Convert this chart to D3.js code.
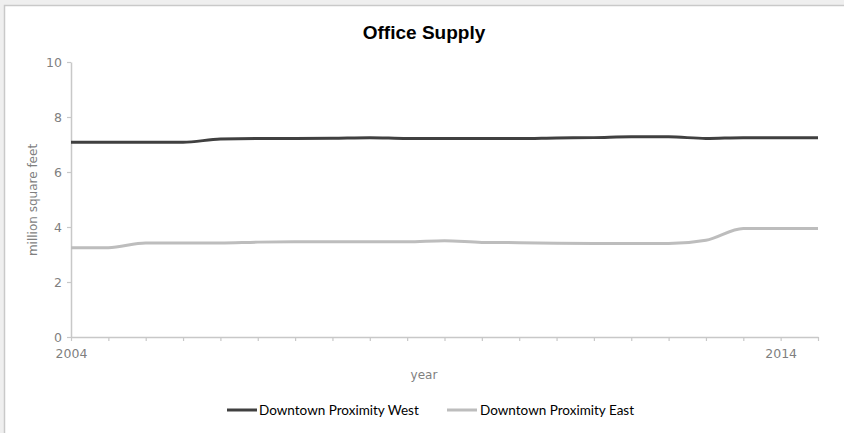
<!DOCTYPE html>
<html>
<head>
<meta charset="utf-8">
<script src="https://cdn.jsdelivr.net/npm/d3@7"></script>
<style>
  html, body { margin: 0; padding: 0; background: #efefef; }
  svg { display: block; }
</style>
</head>
<body>
<svg id="chart" width="844" height="433"></svg>
<script>
// Half-yearly observation slots; only the first and the 2014 slot carry a label
const periodLabels = ["2004", "", "", "", "", "", "", "", "", "", "", "", "", "", "", "", "", "", "", "2014", ""];
const westSupply = [7.08, 7.08, 7.08, 7.08, 7.2, 7.22, 7.22, 7.23, 7.25, 7.22, 7.22, 7.22, 7.22, 7.24, 7.25, 7.28, 7.28, 7.22, 7.25, 7.25, 7.25];
const eastSupply = [3.25, 3.25, 3.42, 3.42, 3.42, 3.45, 3.46, 3.46, 3.46, 3.46, 3.5, 3.44, 3.43, 3.41, 3.4, 3.4, 3.4, 3.52, 3.95, 3.95, 3.95];
const yTicks = [0, 2, 4, 6, 8, 10];
const seriesNames = ["Downtown Proximity West", "Downtown Proximity East"];
const seriesColors = ["#404040", "#bdbdbd"];

const svg = d3.select("#chart");

// chart area frame
svg.append("rect")
  .attr("x", 4.5).attr("y", 5.5)
  .attr("width", 900).attr("height", 500)
  .attr("fill", "#ffffff")
  .attr("stroke", "#c9c9c9")
  .attr("stroke-width", 1.5);

const plot = { left: 71, right: 818, top: 62, bottom: 337 };

const x = d3.scalePoint()
  .domain(d3.range(periodLabels.length))
  .range([plot.left, plot.right]);

const y = d3.scaleLinear()
  .domain([0, 10])
  .range([plot.bottom, plot.top]);

const axisFont = "'DejaVu Sans', Verdana, sans-serif";
const axisGrey = "#7f7f7f";
const lineGrey = "#c8c8c8";

// title
svg.append("text")
  .attr("x", 424).attr("y", 39)
  .attr("text-anchor", "middle")
  .attr("font-family", "'Liberation Sans', Arial, sans-serif")
  .attr("font-weight", "bold")
  .attr("font-size", 19)
  .attr("fill", "#000")
  .text("Office Supply");

// y axis
const yAxis = svg.append("g")
  .attr("transform", `translate(${plot.left},0)`)
  .call(d3.axisLeft(y).tickValues(yTicks).tickSize(4).tickPadding(5).tickSizeOuter(0));
yAxis.select(".domain").attr("stroke", lineGrey).attr("stroke-width", 1.5);
yAxis.selectAll(".tick line").attr("stroke", lineGrey).attr("stroke-width", 1.2);
yAxis.selectAll(".tick text")
  .attr("font-family", axisFont).attr("font-size", 12.5).attr("fill", axisGrey);

// x axis
const xAxis = svg.append("g")
  .attr("transform", `translate(0,${plot.bottom})`)
  .call(d3.axisBottom(x).tickFormat(i => periodLabels[i]).tickSize(4).tickPadding(8).tickSizeOuter(0));
xAxis.select(".domain").attr("stroke", lineGrey).attr("stroke-width", 1.5);
xAxis.selectAll(".tick line").attr("stroke", lineGrey).attr("stroke-width", 1.2);
xAxis.selectAll(".tick text")
  .attr("font-family", axisFont).attr("font-size", 12.5).attr("fill", axisGrey);

// axis titles
svg.append("text")
  .attr("transform", "translate(37,200) rotate(-90)")
  .attr("text-anchor", "middle")
  .attr("font-family", axisFont).attr("font-size", 12).attr("fill", axisGrey)
  .text("million square feet");

svg.append("text")
  .attr("x", 424).attr("y", 379)
  .attr("text-anchor", "middle")
  .attr("font-family", axisFont).attr("font-size", 12).attr("fill", axisGrey)
  .text("year");

// series lines
const line = d3.line()
  .x((d, i) => x(i))
  .y(d => y(d))
  .curve(d3.curveMonotoneX);

[westSupply, eastSupply].forEach((values, k) => {
  svg.append("path")
    .datum(values)
    .attr("fill", "none")
    .attr("stroke", seriesColors[k])
    .attr("stroke-width", 3)
    .attr("stroke-linejoin", "round")
    .attr("d", line);
});

// legend
const legendItems = [
  { x0: 227, tx: 259 },
  { x0: 447, tx: 480 }
];
legendItems.forEach((it, k) => {
  svg.append("line")
    .attr("x1", it.x0).attr("x2", it.x0 + 30)
    .attr("y1", 410).attr("y2", 410)
    .attr("stroke", seriesColors[k]).attr("stroke-width", 3);
  svg.append("text")
    .attr("x", it.tx).attr("y", 415)
    .attr("font-family", "Lato, 'Liberation Sans', sans-serif")
    .attr("font-size", 13.5).attr("fill", "#000")
    .text(seriesNames[k]);
});
</script>
</body>
</html>
